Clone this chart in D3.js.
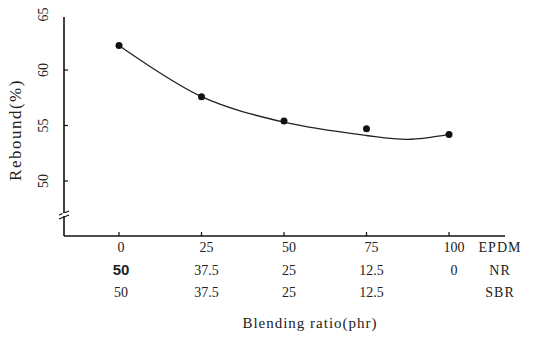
<!DOCTYPE html>
<html><head><meta charset="utf-8">
<script src="https://cdn.jsdelivr.net/npm/d3@7"></script>
<style>body{margin:0;background:#fff}svg{display:block}text{font-family:"Liberation Serif","DejaVu Serif",serif;fill:#222}</style>
</head><body><svg id="c" width="533" height="337"></svg>
<script>
const epdm = [0, 25, 50, 75, 100];
const nr = ["50", "37.5", "25", "12.5", "0"];
const sbr = ["50", "37.5", "25", "12.5", ""];
const rebound = [62.2, 57.6, 55.4, 54.7, 54.2];
const fitX = [0, 25, 50, 75, 87.5, 100];
const fitY = [62.2, 57.6, 55.3, 54.1, 53.75, 54.2];
const yTicks = [50, 55, 60, 65];
const rowNames = ["EPDM", "NR", "SBR"];

const svg = d3.select("#c");
const x = d3.scaleLinear().domain([0, 100]).range([119, 449]);
const y = d3.scaleLinear().domain([50, 65]).range([181, 14.5]);
const axX = 64, axY = 236, axTop = 17, axRight = 505;

// axes lines
svg.append("line").attr("x1", axX).attr("x2", axX).attr("y1", axTop).attr("y2", axY).attr("stroke", "#111").attr("stroke-width", 1.6);
svg.append("line").attr("x1", axX).attr("x2", axRight).attr("y1", axY).attr("y2", axY).attr("stroke", "#111").attr("stroke-width", 1.4);
// break marks
[0, 4].forEach(d => svg.append("line").attr("x1", axX - 5).attr("x2", axX + 5).attr("y1", 215 + d).attr("y2", 211 + d).attr("stroke", "#111").attr("stroke-width", 1.2));
svg.append("rect").attr("x", axX - 1.5).attr("y", 213).attr("width", 3).attr("height", 3).attr("fill", "#fff");

// y ticks
const yt = svg.append("g");
yTicks.forEach(t => {
  if (t < 65) yt.append("line").attr("x1", axX).attr("x2", axX + 4).attr("y1", y(t)).attr("y2", y(t)).attr("stroke", "#111").attr("stroke-width", 1.2);
  yt.append("text").attr("transform", `translate(${axX - 16},${y(t)}) rotate(-90)`)
    .attr("text-anchor", "middle").attr("font-size", 14).attr("fill", "#777").text(t);
});

// x ticks
epdm.forEach(v => svg.append("line").attr("x1", x(v)).attr("x2", x(v)).attr("y1", axY).attr("y2", axY - 4).attr("stroke", "#111").attr("stroke-width", 1.2));

// tick label rows
const rows = [epdm.map(String), nr, sbr];
const rowY = [252, 275, 297];
rows.forEach((r, i) => {
  r.forEach((lab, j) => {
    const bold = (i === 1 && j === 0);
    svg.append("text").attr("x", x(epdm[j]) + (j === 0 ? 2 : 5)).attr("y", rowY[i])
      .attr("text-anchor", "middle").attr("font-size", bold ? 15 : 14)
      .attr("font-weight", bold ? "bold" : "normal")
      .style("font-family", bold ? "'Liberation Sans',Arial,sans-serif" : null)
      .attr("fill", bold ? "#111" : "#666").text(lab);
  });
  svg.append("text").attr("x", 500).attr("y", rowY[i]).attr("text-anchor", "middle")
    .attr("font-size", 14).attr("fill", "#555").attr("letter-spacing", 1).text(rowNames[i]);
});

// axis titles
svg.append("text").attr("x", 310).attr("y", 328).attr("text-anchor", "middle").attr("font-size", 15)
  .attr("letter-spacing", 1).attr("fill", "#333").text("Blending ratio(phr)");
svg.append("text").attr("transform", "translate(21,130) rotate(-90)").attr("text-anchor", "middle")
  .attr("font-size", 17).attr("letter-spacing", 1.5).attr("fill", "#222").text("Rebound(%)");

// fitted curve
const line = d3.line().x(d => x(d[0])).y(d => y(d[1])).curve(d3.curveCatmullRom);
svg.append("path").datum(fitX.map((v, i) => [v, fitY[i]])).attr("d", line)
  .attr("fill", "none").attr("stroke", "#222").attr("stroke-width", 1.3);

// points
svg.selectAll("circle.p").data(epdm).enter().append("circle")
  .attr("cx", d => x(d)).attr("cy", (d, i) => y(rebound[i])).attr("r", 3.5).attr("fill", "#111");
</script></body></html>
